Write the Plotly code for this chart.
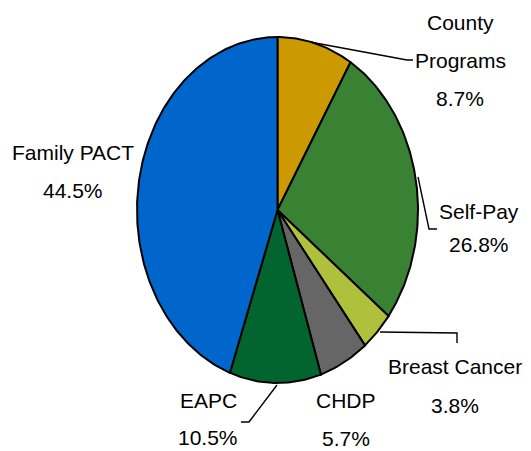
import numpy as np
import plotly.graph_objects as go

# ---- data ----
categories = ["County Programs", "Self-Pay", "Breast Cancer", "CHDP", "EAPC", "Family PACT"]
label_lines = [["County", "Programs"], ["Self-Pay"], ["Breast Cancer"], ["CHDP"], ["EAPC"], ["Family PACT"]]
shares = [8.7, 26.8, 3.8, 5.7, 10.5, 44.5]
colors = ["#CC9900", "#3A8233", "#AFC03C", "#666666", "#02652F", "#0066CC"]

# ---- geometry (page-pixel space; page body has an 8px margin) ----
W, H = 531, 451
OFF = 8
cx, cy, rx, ry = 277.5, 210, 140.5, 173

fig = go.Figure()
total = sum(shares)
cum = 0.0
for name, v, col in zip(categories, shares, colors):
    t0 = cum / total * 2 * np.pi
    cum += v
    t1 = cum / total * 2 * np.pi
    t = np.linspace(t0, t1, max(8, int(v * 4)))
    xs = np.concatenate([[cx], cx + rx * np.sin(t), [cx]])
    ys = np.concatenate([[cy], cy - ry * np.cos(t), [cy]])
    fig.add_trace(go.Scatter(x=xs, y=ys, mode="lines", fill="toself", fillcolor=col,
                             line=dict(color="black", width=2), name=name,
                             hoverinfo="skip", showlegend=False))

# label placement: (center x, first line y, line spacing)
label_pos = {
    "County Programs": (460, 22, 38),
    "Self-Pay": (479, 211, 33),
    "Breast Cancer": (455, 366, 39),
    "CHDP": (346, 400, 38),
    "EAPC": (208, 400, 37),
    "Family PACT": (73, 152, 38),
}
font = dict(family="Liberation Sans, Arial, sans-serif", size=21, color="black")
for name, lines, v in zip(categories, label_lines, shares):
    x0, y0, dy = label_pos[name]
    texts = lines + [f"{v:.1f}%"]
    for i, tx in enumerate(texts):
        fig.add_annotation(x=x0, y=y0 + i * dy, text=tx, showarrow=False, xref="x", yref="y",
                           xanchor="center", yanchor="middle", font=font)

leaders = [
    "M 310 42 L 407 60 L 413 60",
    "M 418 177 L 429 229 L 437 229",
    "M 380 332 L 457 333 L 457 343",
    "M 277 385 L 249 422 L 241 422",
]
for p in leaders:
    fig.add_shape(type="path", path=p, xref="x", yref="y", line=dict(color="black", width=1.4))

fig.update_xaxes(range=[OFF, W], visible=False, fixedrange=True)
fig.update_yaxes(range=[H, OFF], visible=False, fixedrange=True)
fig.update_layout(width=W - OFF, height=H - OFF, margin=dict(l=0, r=0, t=0, b=0),
                  paper_bgcolor="white", plot_bgcolor="white", hovermode=False)
fig.write_html("out.html", config={"displayModeBar": False})
